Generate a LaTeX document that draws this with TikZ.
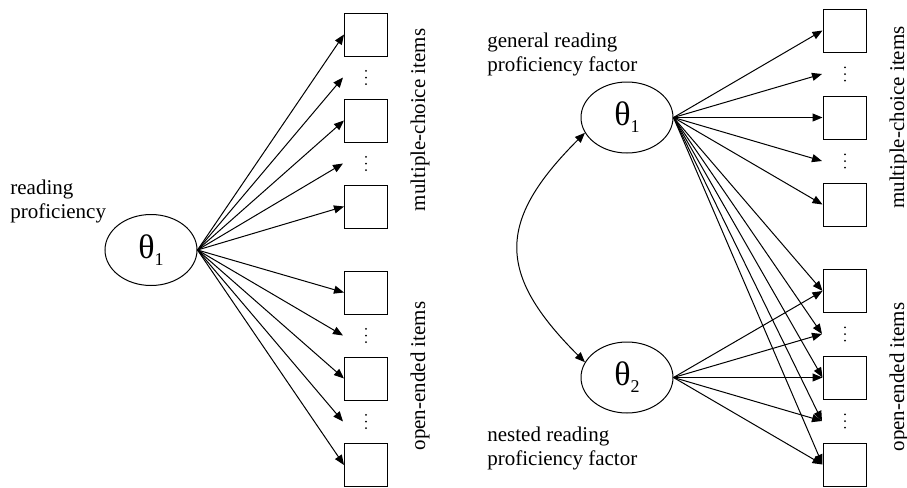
\documentclass[tikz,border=0pt]{standalone}
\usepackage{fontspec}
\setmainfont{Liberation Serif}
\usetikzlibrary{arrows.meta,positioning,shapes.geometric}
\tikzset{
  item/.style={draw,line width=.5pt,minimum size=21.5pt,inner sep=0pt},
  lat/.style={ellipse,draw,line width=.5pt,minimum width=46pt,minimum height=35.5pt,inner sep=0pt},
  ar/.style={-{Triangle[length=5pt,width=4pt]},line width=.5pt},
  dar/.style={{Triangle[length=5pt,width=4pt]}-{Triangle[length=5pt,width=4pt]},line width=.5pt},
  lbl/.style={align=left,font=\fontsize{10.5}{12}\selectfont,inner sep=0pt},
  grp/.style={rotate=90,font=\fontsize{10.5}{12}\selectfont,inner sep=0pt},
}
% latent variable: theta with an upright index
\newcommand{\lv}[1]{{\fontsize{17}{17}\selectfont θ}\raisebox{-3.5pt}{\fontsize{9}{9}\selectfont #1}}
% short vertical ellipsis between items
\newcommand{\vdt}[1]{\foreach \d in {-6.7,0,6.7} \fill ([shift={(0,\d)}]#1) circle (0.5pt);}

\begin{document}
\begin{tikzpicture}[x=0.5pt,y=0.5pt]
  \useasboundingbox (0,0) rectangle (907,-488);
  % one-factor model
  \node[lat] (f) at (151,-250) {\lv{1}};
  \node[lbl,anchor=north west] (rp) at (10,-180) {reading\\proficiency};
  \foreach \i/\y in {1/34.5,2/120.5,3/206.5,4/292.5,5/378.5,6/465}
    \node[item] (a\i) at (366,-\y) {};
  \foreach \i/\y in {1/77.5,2/163.5,3/335.5,4/421.5} {
    \coordinate (ad\i) at (366,-\y);
    \coordinate (at\i) at (343,-\y);
    \vdt{ad\i}
  }
  \foreach \t in {a1,a2,a3,a4,a5,a6} \draw[ar] (f.east) -- (\t.west);
  \foreach \t in {at1,at2,at3,at4} \draw[ar] (f.east) -- (\t);
  \node[grp] (amc) at (420,-120) {multiple-choice items};
  \node[grp] (aoe) at (420,-376) {open-ended items};

  % nested-factor model
  \node[lat] (g1) at (627,-117.5) {\lv{1}};
  \node[lat] (g2) at (627,-377.5) {\lv{2}};
  \node[lbl,anchor=north west] (gf) at (487,-33) {general reading\\proficiency factor};
  \node[lbl,anchor=north west] (nf) at (487,-427) {nested reading\\proficiency factor};
  \draw[dar] (g1.200) to[out=225,in=135,looseness=1.4] (g2.160);
  \foreach \i/\y in {1/30.5,2/117.5,3/204.5,4/291,5/377.5,6/464.5}
    \node[item] (b\i) at (844.5,-\y) {};
  \foreach \i/\y in {1/74,2/161,3/334,4/421} {
    \coordinate (bd\i) at (845,-\y);
    \coordinate (bt\i) at (822,-\y);
    \vdt{bd\i}
  }
  \foreach \t in {b1,b2,b3,b4,b5,b6} \draw[ar] (g1.east) -- (\t.west);
  \foreach \t in {bt1,bt2,bt3,bt4} \draw[ar] (g1.east) -- (\t);
  \foreach \t in {b4,b5,b6} \draw[ar] (g2.east) -- (\t.west);
  \foreach \t in {bt3,bt4} \draw[ar] (g2.east) -- (\t);
  \node[grp] (bmc) at (899,-117.5) {multiple-choice items};
  \node[grp] (boe) at (899,-377) {open-ended items};
\end{tikzpicture}
\end{document}
